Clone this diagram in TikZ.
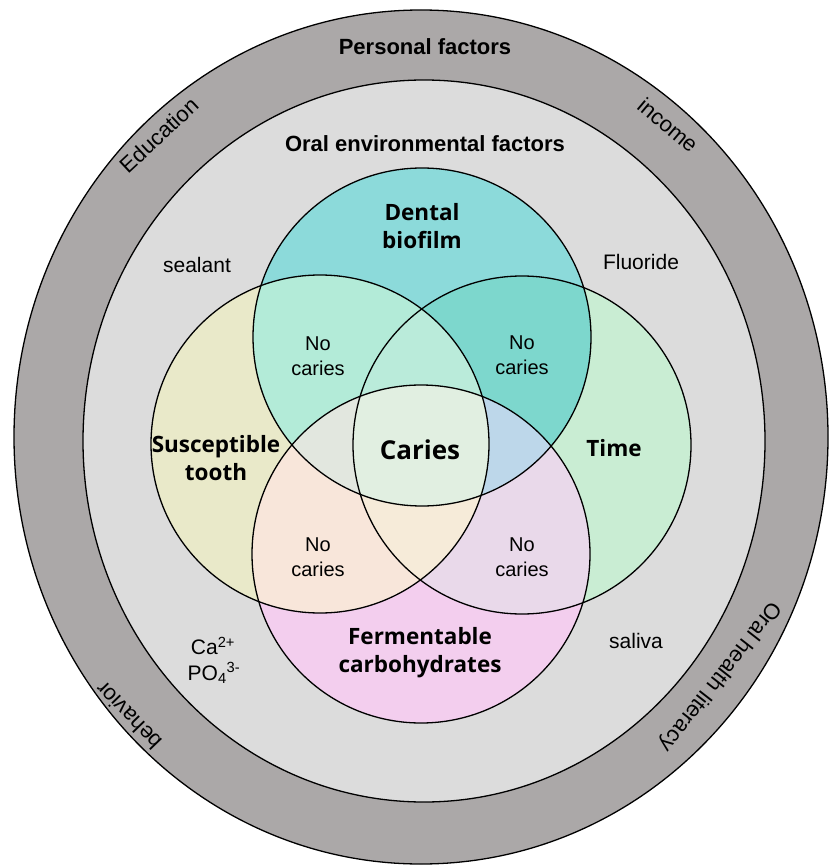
\documentclass[tikz,border=0pt]{standalone}
\usepackage{fontspec}
\setmainfont{Liberation Sans}
\newfontfamily\venn{Open Sans}
\definecolor{ringdark}{HTML}{ABA8A8}
\definecolor{ringlight}{HTML}{DCDCDC}
\definecolor{cT}{HTML}{8CDADA}
\definecolor{cL}{HTML}{E9E9C9}
\definecolor{cR}{HTML}{C9EDD3}
\definecolor{cB}{HTML}{F3CEEE}
\definecolor{cTL}{HTML}{B3EBD8}
\definecolor{cTR}{HTML}{7DD7CD}
\definecolor{cLB}{HTML}{F8E6DA}
\definecolor{cRB}{HTML}{E9D9EA}
\definecolor{cTLR}{HTML}{BAEBDA}
\definecolor{cTLB}{HTML}{E2E7DF}
\definecolor{cTRB}{HTML}{BDD7EA}
\definecolor{cLRB}{HTML}{F6EBD9}
\definecolor{cALL}{HTML}{E1EFE1}
\def\CT{(422,337) circle [radius=169]}
\def\CL{(320,444) circle [radius=169]}
\def\CR{(522,445) circle [radius=169]}
\def\CB{(421,554) circle [radius=169]}
\tikzset{
  outline/.style={draw=black, line width=1.3pt},
  head/.style={font=\fontsize{22}{26}\selectfont\bfseries, inner sep=0pt},
  ringlabel/.style={font=\fontsize{22}{26}\selectfont, inner sep=0pt},
  small/.style={font=\fontsize{21}{27}\selectfont, inner sep=0pt, align=center},
  vennlabel/.style={font=\fontsize{22.5}{28}\venn\bfseries, inner sep=0pt, align=center},
  nocaries/.style={font=\fontsize{20}{25}\selectfont, inner sep=0pt, align=center},
}
\begin{document}
\begin{tikzpicture}[x=1pt,y=-1pt]
\useasboundingbox (0,0) rectangle (828,866);
% rings
\fill[ringdark] (421,437) ellipse [x radius=407, y radius=427];
\draw[outline] (421,437) ellipse [x radius=407, y radius=427];
\fill[ringlight] (424,441) ellipse [x radius=341, y radius=361];
\draw[outline] (424,441) ellipse [x radius=341, y radius=361];
% single circles
\fill[cT] \CT; \fill[cL] \CL; \fill[cR] \CR; \fill[cB] \CB;
% pairs
\begin{scope}\clip \CT; \fill[cTL] \CL; \end{scope}
\begin{scope}\clip \CT; \fill[cTR] \CR; \end{scope}
\begin{scope}\clip \CL; \fill[cLB] \CB; \end{scope}
\begin{scope}\clip \CR; \fill[cRB] \CB; \end{scope}
% triples
\begin{scope}\clip \CT; \clip \CL; \fill[cTLR] \CR; \end{scope}
\begin{scope}\clip \CT; \clip \CL; \fill[cTLB] \CB; \end{scope}
\begin{scope}\clip \CT; \clip \CR; \fill[cTRB] \CB; \end{scope}
\begin{scope}\clip \CL; \clip \CR; \fill[cLRB] \CB; \end{scope}
% all four
\begin{scope}\clip \CT; \clip \CL; \clip \CR; \fill[cALL] \CB; \end{scope}
% outlines
\draw[outline] \CT; \draw[outline] \CL; \draw[outline] \CR; \draw[outline] \CB;
% headings
\node[head] (pf) at (425,47) {Personal factors};
\node[head] (oef) at (425,144) {Oral environmental factors};
% ring labels
\node[ringlabel, rotate=43] (edu) at (159,135) {Education};
\node[ringlabel, rotate=-40] (inc) at (668,125) {income};
\node[ringlabel, rotate=134] (beh) at (129,716) {behavior};
\node[ringlabel, rotate=-128] (ohl) at (720,676) {Oral health literacy};
% inner ring labels
\node[small] (sea) at (197,265) {sealant};
\node[small] (flu) at (641,262) {Fluoride};
\node[small] (ca) at (213,646) {Ca\textsuperscript{2+}};
\node[small] (po) at (214,673) {PO\textsubscript{4}\textsuperscript{3-}};
\node[small] (sal) at (636,641) {saliva};
% venn labels
\node[vennlabel] (den) at (422,226) {Dental\\biofilm};
\node[vennlabel] (sus) at (216,458) {Susceptible\\tooth};
\node[vennlabel] (tim) at (614,448) {Time};
\node[vennlabel] (fer) at (420,653) {Fermentable\\carbohydrates};
\node[vennlabel, font=\fontsize{26}{30}\venn\bfseries] (car) at (420,450) {Caries};
% no caries
\node[nocaries] (n1) at (318,356) {No\\caries};
\node[nocaries] (n2) at (522,355) {No\\caries};
\node[nocaries] (n3) at (318,557) {No\\caries};
\node[nocaries] (n4) at (522,557) {No\\caries};
\end{tikzpicture}
\end{document}
